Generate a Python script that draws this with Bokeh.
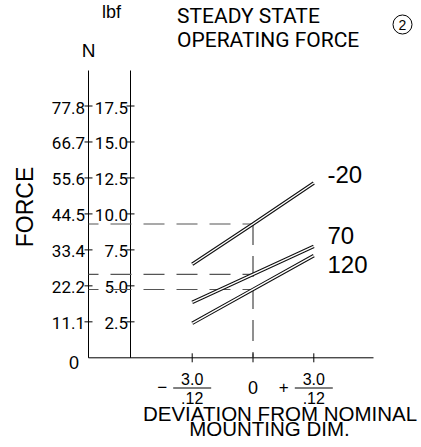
import numpy as np
from bokeh.plotting import figure
from bokeh.models import Range1d
from bokeh.core.properties import value
from bokeh.embed import file_html
from bokeh.resources import INLINE

# ---------------- data ----------------
deviation_mm = [-3.0, 0.0, 3.0]
temperature_labels = ["-20", "70", "120"]
force_lbf_m20 = [6.5, 9.3, 12.15]
force_lbf_70 = [3.85, 5.8, 7.75]
force_lbf_120 = [2.4, 4.75, 7.1]
series = [force_lbf_m20, force_lbf_70, force_lbf_120]

lbf_ticks = [2.5, 5.0, 7.5, 10.0, 12.5, 15.0, 17.5]
lbf_tick_labels = ["2.5", "5.0", "7.5", "10.0", "12.5", "15.0", "17.5"]
newton_tick_labels = ["11.1", "22.2", "33.4", "44.5", "55.6", "66.7", "77.8"]
x_ticks_mm = [-3.0, 0.0, 3.0]
x_tick_mm_labels = ["3.0", "0", "3.0"]
x_tick_in_labels = [".12", "", ".12"]
x_tick_signs = ["\u2212", "", "+"]

# ---------------- layout ----------------
W, H = 419, 441
CX0, KX = 252.5, 60.8 / 3.0        # px of x=0, px per mm
CY0, KY = 357.3, 251.8 / 17.5      # px of y=0, px per lbf


def X(px):
    return (px - CX0) / KX


def Y(py):
    return (CY0 - py) / KY


ROBOTO = value("Roboto")
SANS = value("Liberation Sans")

p = figure(width=W, height=H, output_backend="svg", toolbar_location=None,
           x_range=Range1d(X(0), X(W)),
           y_range=Range1d(Y(H), Y(0)),
           x_axis_location=None, y_axis_location=None, min_border=0)
p.grid.visible = False
p.outline_line_color = None
p.background_fill_color = "white"
p.border_fill_color = "white"

N_AXIS_X = X(88)
LBF_AXIS_X = X(130)
X_AXIS_END = X(373)
AXIS_TOP = Y(70)

# axes lines
p.segment(x0=[N_AXIS_X, LBF_AXIS_X, N_AXIS_X], y0=[0, 0, 0],
          x1=[N_AXIS_X, LBF_AXIS_X, X_AXIS_END], y1=[AXIS_TOP, AXIS_TOP, 0],
          line_color="black", line_width=1)

# y ticks (crossing)
p.scatter(x=[N_AXIS_X] * len(lbf_ticks) + [LBF_AXIS_X] * len(lbf_ticks),
          y=lbf_ticks * 2, marker="dash", size=8, line_color="black", line_width=1)
# x ticks
p.scatter(x=x_ticks_mm, y=[0] * len(x_ticks_mm), marker="dash", angle=np.pi / 2,
          size=9, line_color="black", line_width=1)

# tick labels
lab_y = [t - 1.5 / KY for t in lbf_ticks]
p.text(x=[X(84.5)] * len(lbf_ticks), y=lab_y, text=newton_tick_labels,
       text_align="right", text_baseline="middle", text_font=ROBOTO,
       text_font_size="17px", text_color="black")
p.text(x=[X(127.5)] * len(lbf_ticks), y=lab_y, text=lbf_tick_labels,
       text_align="right", text_baseline="middle", text_font=ROBOTO,
       text_font_size="17px", text_color="black")
p.text(x=[X(78.5)], y=[Y(361.5)], text=["0"], text_align="right",
       text_baseline="middle", text_font=SANS, text_font_size="18px", text_color="black")

# dashed guide lines at nominal (x = 0)
centers = [s[deviation_mm.index(0.0)] for s in series]
p.segment(x0=[N_AXIS_X] * len(centers), y0=centers, x1=[0.0] * len(centers), y1=centers,
          line_color="#555555", line_width=1.1, line_dash="21 12", line_dash_offset=11)
p.segment(x0=[0.0], y0=[max(centers)], x1=[0.0], y1=[0.0],
          line_color="#333333", line_width=1.1, line_dash="21 11")

# series as double lines
for s in series:
    p.line(deviation_mm, s, line_color="#111111", line_width=3.6)
    p.line(deviation_mm, s, line_color="white", line_width=1.4)

# series labels
p.text(x=[X(327)] * 3, y=[Y(173.5), Y(235), Y(264)], text=temperature_labels,
       text_align="left", text_baseline="middle", text_font=SANS,
       text_font_size="24px", text_color="black")

# x tick labels (mm over inch fractions)
nz = [i for i, t in enumerate(x_ticks_mm) if t != 0]
p.text(x=[x_ticks_mm[i] for i in nz], y=[Y(378.5)] * len(nz),
       text=[x_tick_mm_labels[i] for i in nz], text_align="center",
       text_baseline="middle", text_font=SANS, text_font_size="16px", text_color="black")
p.text(x=[x_ticks_mm[i] for i in nz], y=[Y(397.5)] * len(nz),
       text=[x_tick_in_labels[i] for i in nz], text_align="center",
       text_baseline="middle", text_font=SANS, text_font_size="16px", text_color="black")
p.scatter(x=[x_ticks_mm[i] for i in nz], y=[Y(387.5)] * len(nz), marker="dash",
          size=38, line_color="black", line_width=1)
p.text(x=[x_ticks_mm[i] for i in nz], y=[Y(386.5)] * len(nz),
       text=[x_tick_signs[i] for i in nz], x_offset=-30, text_align="center",
       text_baseline="middle", text_font=SANS, text_font_size="17px", text_color="black")
z = [i for i, t in enumerate(x_ticks_mm) if t == 0]
p.text(x=[x_ticks_mm[i] for i in z], y=[Y(387)] * len(z),
       text=[x_tick_mm_labels[i] for i in z], text_align="center",
       text_baseline="middle", text_font=SANS, text_font_size="18px", text_color="black")

# axis titles
p.text(x=[X(279.5)], y=[Y(412.5)], text=["DEVIATION FROM NOMINAL"], text_align="center",
       text_baseline="middle", text_font=SANS, text_font_size="20.5px", text_color="black")
p.text(x=[X(269)], y=[Y(427.5)], text=["MOUNTING DIM."], text_align="center",
       text_baseline="middle", text_font=SANS, text_font_size="20.5px", text_color="black")
p.text(x=[X(24)], y=[Y(206.5)], text=["FORCE"], angle=np.pi / 2, text_align="center",
       text_baseline="middle", text_font=SANS, text_font_size="23px", text_color="black")
p.text(x=[X(111)], y=[Y(11)], text=["lbf"], text_align="center",
       text_baseline="middle", text_font=SANS, text_font_size="18px", text_color="black")
p.text(x=[X(88)], y=[Y(50)], text=["N"], text_align="center",
       text_baseline="middle", text_font=SANS, text_font_size="19px", text_color="black")

# title
p.text(x=[X(176.5)] * 2, y=[Y(15), Y(39)], text=["STEADY STATE", "OPERATING FORCE"],
       text_align="left", text_baseline="middle", text_font=ROBOTO,
       text_font_size="21px", text_color="black")

# circled number
p.scatter(x=[X(402)], y=[Y(24)], marker="circle", size=19, fill_color=None,
          line_color="black", line_width=1)
p.text(x=[X(402)], y=[Y(24.5)], text=["2"], text_align="center", text_baseline="middle",
       text_font=SANS, text_font_size="14px", text_color="black")

open("out.html", "w").write(file_html(p, INLINE))
